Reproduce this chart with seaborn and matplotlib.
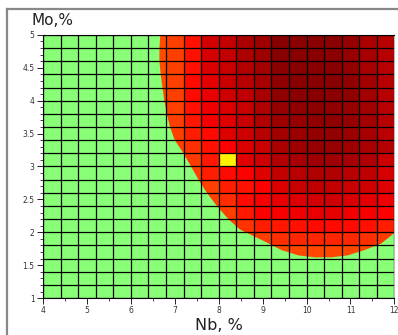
import numpy as np
import pandas as pd
import matplotlib
matplotlib.use("Agg")
import matplotlib.pyplot as plt
from matplotlib.patches import Polygon
from matplotlib.lines import Line2D
import seaborn as sns

nan = np.nan

# grid of cells: Nb 4..12 step 0.4 (20 columns), Mo 5..1 step 0.2 (20 rows, top first)
nb_start, nb_step, n_cols = 4.0, 0.4, 20
mo_top, mo_step, n_rows = 5.0, 0.2, 20

# cell levels, columns 6..19 (Nb 6.4 .. 12), rows from Mo=5 down
first_col = 6
level_rows = [
    [52, 54, 61, 70, 72, 76, 78, 81, 80.5, 80.5, 80.5, 79, 76, 74],
    [52, 54, 61, 69.5, 72, 75.5, 78, 81, 81, 81, 80.5, 79, 76.5, 74],
    [52, 54, 61, 69, 71.5, 74.5, 77, 80.5, 81, 81, 81, 79.5, 76.5, 74],
    [52, 54, 62, 67.5, 71.5, 74, 76.5, 80, 81, 81, 81, 80, 77, 74],
    [52, 54, 62, 66.5, 70.5, 73, 76.5, 80, 80.5, 81, 80.5, 80, 77, 74],
    [52, 54, 61, 66, 69, 71.5, 75, 79, 80, 80.5, 80, 79, 77, 74],
    [nan, 54, 60, 65, 68, 71.5, 75, 78, 79, 80, 80, 79, 77, 74],
    [nan, 54, 59, 62, 68, 70.5, 74, 77, 78.5, 79.5, 79.5, 78.5, 76.5, 73.5],
    [nan, 54, 56.5, 61, 63.5, 69, 71.5, 76, 78, 79, 79, 78, 76.5, 74.5],
    [nan, nan, 55, 60, 28, 68, 70.5, 74.5, 76.5, 78, 77.5, 76.5, 75, 71],
    [nan, nan, 54, 59, 62, 63.5, 68, 72.5, 74, 75, 75, 74, 73, 69.5],
    [nan, nan, 54, 54, 59, 61, 63.5, 69, 71.5, 73, 72.5, 71.5, 70.5, 68],
    [nan, nan, nan, 54, 57, 62, 64.5, 67, 68.5, 70, 70.5, 69, 67.5, 66],
    [nan, nan, nan, 54, 54, 60, 63.5, 64.5, 65.5, 66.5, 67, 65.5, 64.5, 63.5],
    [nan, nan, nan, nan, 54, 56, 59, 60, 61, 62, 62, 62, 61, 59],
    [nan, nan, nan, nan, nan, 54, 54, 56.5, 57.5, 58, 58, 57.5, 56.5, 55],
    [nan, nan, nan, nan, nan, nan, nan, 53, 53, 53, 53, 53, 53, nan],
]

# green/red boundary
bound_nb = [6.67, 6.65, 6.65, 6.68, 6.72, 6.76, 6.82, 6.89, 7.0, 7.2, 7.37, 7.54,
            7.73, 7.96, 8.22, 8.49, 9.05, 9.43, 9.81, 10.19, 10.56, 10.94, 11.32,
            11.70, 12.0]
bound_mo = [5.0, 4.8, 4.6, 4.4, 4.2, 4.0, 3.8, 3.6, 3.4, 3.2, 3.0, 2.8,
            2.6, 2.4, 2.2, 2.04, 1.86, 1.73, 1.65, 1.62, 1.62, 1.65, 1.73,
            1.83, 1.99]

x_ticks = [4, 5, 6, 7, 8, 9, 10, 11, 12]
y_ticks = [1, 1.5, 2, 2.5, 3, 3.5, 4, 4.5, 5]
y_tick_labels = ["1", "1.5", "2", "2.5", "3", "3.5", "4", "4.5", "5"]

grid = np.full((n_rows, n_cols), nan)
for i, row in enumerate(level_rows):
    grid[i, first_col:first_col + len(row)] = row
df = pd.DataFrame(grid)


def col_pos(nb):
    return (np.asarray(nb, dtype=float) - nb_start) / nb_step


def row_pos(mo):
    return (mo_top - np.asarray(mo, dtype=float)) / mo_step


fig = plt.figure(figsize=(3.98, 3.35), dpi=100)
ax = fig.add_axes([0.108, 0.11, 0.883, 0.786])

sns.heatmap(df, cmap="hot_r", vmin=0, vmax=100, cbar=False, ax=ax,
            xticklabels=False, yticklabels=False)

# green area outside the boundary
pts = list(zip(col_pos(bound_nb), row_pos(bound_mo)))
pts += [(n_cols, n_rows), (0, n_rows), (0, 0)]
ax.add_patch(Polygon(pts, closed=True, facecolor="#88ff77", edgecolor="none", zorder=2))

for k in range(n_cols + 1):
    ax.axvline(k, color="black", lw=0.9, zorder=3)
for k in range(n_rows + 1):
    ax.axhline(k, color="black", lw=0.9, zorder=3)

ax.set_xlim(0, n_cols)
ax.set_ylim(n_rows, 0)
for s in ax.spines.values():
    s.set_visible(True)
    s.set_linewidth(0.8)
ax.spines["right"].set_color("#bbbbbb")
ax.spines["top"].set_color("black")

ax.set_xticks(col_pos(x_ticks))
ax.set_xticklabels([str(t) for t in x_ticks])
ax.set_xticks(col_pos(np.array(x_ticks[:-1]) + 0.5), minor=True)
ax.set_yticks(row_pos(y_ticks))
ax.set_yticklabels(y_tick_labels)
ax.set_yticks(row_pos(np.arange(1, 5.01, 0.1)), minor=True)
ax.tick_params(which="major", length=4, width=0.6, labelsize=5.5, labelcolor="#333333",
               direction="out", pad=2)
ax.tick_params(which="minor", length=2, width=0.5, direction="out")

fig.text(0.078, 0.915, "Mo,%", fontsize=11, ha="left", va="bottom", color="#222222")
fig.text(0.55, 0.005, "Nb, %", fontsize=11.5, ha="center", va="bottom", color="#222222")

# outer frame (top and left)
fig.add_artist(Line2D([7 / 398, 1.0], [1 - 9 / 335, 1 - 9 / 335], color="#888888", lw=1.6,
                      transform=fig.transFigure))
fig.add_artist(Line2D([7 / 398, 7 / 398], [0, 1 - 9 / 335], color="#888888", lw=1.6,
                      transform=fig.transFigure))

fig.savefig("out.png", dpi=100)
